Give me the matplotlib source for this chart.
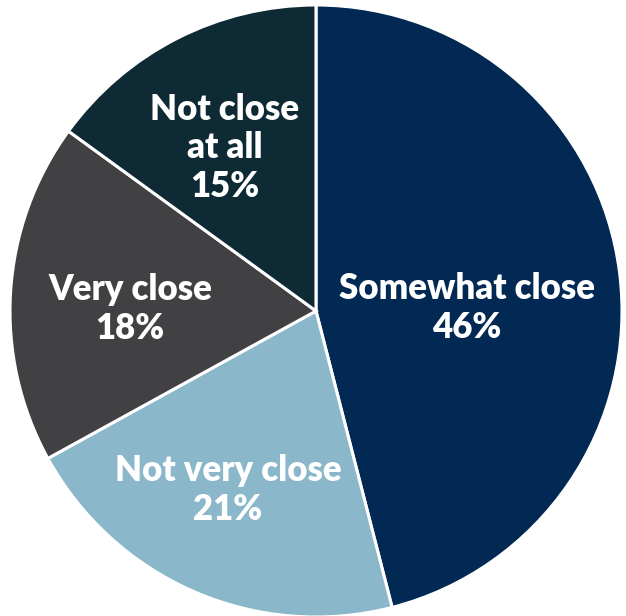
import matplotlib.pyplot as plt

# Données
labels = ["Somewhat close", "Not very close", "Very close", "Not close\nat all"]
values = [46, 21, 18, 15]
colors = ["#022954", "#8bb7ca", "#414042", "#0e2a35"]

fig = plt.figure(figsize=(6.26, 6.16), dpi=100)
ax = fig.add_axes([0, 0, 1, 1])

cx, cy, r = 316, 616 - 311, 306
ax.pie(values, colors=colors, startangle=90, counterclock=False,
       center=(cx, cy), radius=r,
       wedgeprops=dict(edgecolor="white", linewidth=2.2))

# positions des étiquettes (pixels)
label_pos = [(467, 616 - 308), (228, 616 - 490), (130, 616 - 309), (225, 616 - 148)]
for lab, v, (x, y) in zip(labels, values, label_pos):
    ax.text(x, y, f"{lab}\n{v}%", ha="center", va="center", color="white",
            fontsize=25, fontweight="heavy", family="Lato", linespacing=1.2)

ax.set_xlim(0, 626)
ax.set_ylim(0, 616)
ax.set_aspect("equal")
ax.axis("off")

fig.savefig("out.png", dpi=100)
